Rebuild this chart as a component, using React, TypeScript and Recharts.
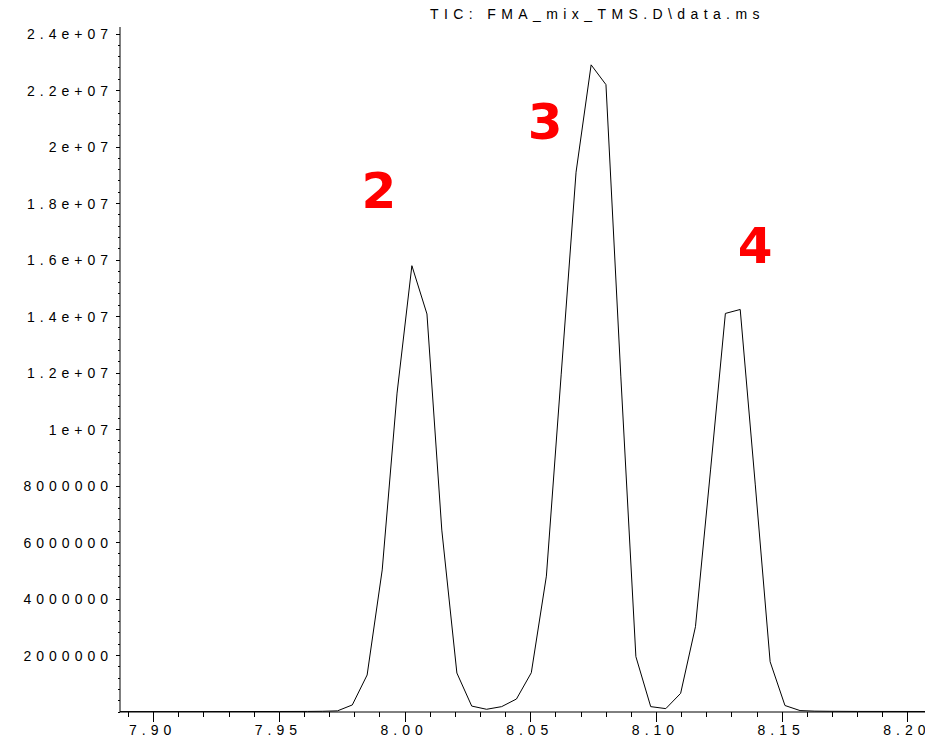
import React from 'react';
import { LineChart, Line, XAxis, YAxis, ReferenceDot } from 'recharts';

// retention time (min) and TIC abundance
const retentionTimes = [
  7.8866, 7.92, 7.95, 7.9612, 7.9671, 7.9731, 7.979, 7.9849, 7.9909, 7.9968,
  8.0027, 8.0087, 8.0146, 8.0206, 8.0265, 8.0324, 8.0384, 8.0443, 8.0502, 8.0562,
  8.0621, 8.068, 8.074, 8.0799, 8.0858, 8.0918, 8.0977, 8.1037, 8.1096, 8.1155,
  8.1215, 8.1274, 8.1333, 8.1393, 8.1452, 8.1511, 8.1571, 8.163, 8.169, 8.18, 8.2068,
];
const abundance = [
  15000, 15000, 18000, 20000, 25000, 40000, 250000, 1310000, 5030000, 11290000,
  15800000, 14090000, 6440000, 1380000, 210000, 96000, 190000, 460000, 1390000, 4810000,
  11960000, 19110000, 22910000, 22210000, 11890000, 1960000, 190000, 120000, 660000, 3020000,
  8570000, 14110000, 14250000, 8040000, 1780000, 230000, 50000, 30000, 25000, 20000, 18000,
];

const xMajorTicks = [7.9, 7.95, 8.0, 8.05, 8.1, 8.15, 8.2];
const xTickLabels = ['7.90', '7.95', '8.00', '8.05', '8.10', '8.15', '8.20'];
const yMajorTicks = [2e6, 4e6, 6e6, 8e6, 1e7, 1.2e7, 1.4e7, 1.6e7, 1.8e7, 2e7, 2.2e7, 2.4e7];
const yTickLabels = [
  '2000000', '4000000', '6000000', '8000000', '1e+07', '1.2e+07',
  '1.4e+07', '1.6e+07', '1.8e+07', '2e+07', '2.2e+07', '2.4e+07',
];

const peakIds = ['2', '3', '4'];
const peakLabelTimes = [7.9896, 8.0557, 8.1392];
const peakLabelHeights = [17.84e6, 20.3e6, 15.89e6];

const title = 'TIC: FMA_mix_TMS.D\\data.ms';

const X_DOMAIN: [number, number] = [7.8866, 8.2068];
const Y_DOMAIN: [number, number] = [0, 2.425e7];

// minor ticks: 0.01 min on x, 4e5 on y
const xTicks: number[] = [];
for (let i = 789; i <= 820; i++) xTicks.push(i / 100);
const yTicks: number[] = [];
for (let i = 0; i <= 60; i++) yTicks.push(i * 4e5);

const data = retentionTimes.map((t, i) => ({ t, tic: abundance[i] }));

const tickFont = {
  fontFamily: '"Liberation Sans", Arial, sans-serif',
  fontSize: 14,
  letterSpacing: '5px',
  fill: '#000',
};

function XTick(props: any) {
  const { x, y, payload } = props;
  const idx = xMajorTicks.findIndex((m) => Math.abs(m - payload.value) < 1e-6);
  const major = idx >= 0;
  return (
    <g>
      <line x1={x} x2={x} y1={y} y2={y + (major ? 10 : 5)} stroke="#000" shapeRendering="crispEdges" />
      {major && (
        <text x={x - 1} y={y + 23} textAnchor="middle" style={tickFont}>
          {xTickLabels[idx]}
        </text>
      )}
    </g>
  );
}

function YTick(props: any) {
  const { x, y, payload } = props;
  const idx = yMajorTicks.findIndex((m) => Math.abs(m - payload.value) < 1);
  const major = idx >= 0;
  return (
    <g>
      <line x1={x - (major ? 4 : 2)} x2={x} y1={y} y2={y} stroke="#000" shapeRendering="crispEdges" />
      {major && (
        <text x={x - 7} y={y + 5} textAnchor="end" style={tickFont}>
          {yTickLabels[idx]}
        </text>
      )}
    </g>
  );
}

export default function App() {
  return (
    <div style={{ position: 'absolute', left: 0, top: 0, width: 925, height: 744, background: '#fff' }}>
      <LineChart width={925} height={744} data={data} margin={{ top: 27, right: 0, bottom: 0, left: 0 }}>
        <XAxis
          dataKey="t"
          type="number"
          domain={X_DOMAIN}
          allowDataOverflow
          ticks={xTicks}
          interval={0}
          height={32}
          tickSize={0}
          tickMargin={0}
          tickLine={false}
          tick={<XTick />}
          axisLine={{ stroke: '#000' }}
        />
        <YAxis
          type="number"
          domain={Y_DOMAIN}
          allowDataOverflow
          ticks={yTicks}
          interval={0}
          width={120}
          tickSize={0}
          tickMargin={0}
          tickLine={false}
          tick={<YTick />}
          axisLine={{ stroke: '#000' }}
        />
        <Line
          type="linear"
          dataKey="tic"
          stroke="#000"
          strokeWidth={1}
          dot={false}
          isAnimationActive={false}
        />
        {peakIds.map((id, i) => (
          <ReferenceDot
            key={id}
            x={peakLabelTimes[i]}
            y={peakLabelHeights[i]}
            r={0}
            ifOverflow="visible"
            shape={(p: any) => (
              <text
                x={p.cx}
                y={p.cy}
                textAnchor="middle"
                fill="#ff0000"
                fontFamily='"DejaVu Sans", Verdana, sans-serif'
                fontWeight="bold"
                fontSize={50}
              >
                {id}
              </text>
            )}
          />
        ))}
      </LineChart>
      <svg width={925} height={30} style={{ position: 'absolute', left: 0, top: 0, pointerEvents: 'none' }}>
        <text x={430} y={18.5} style={{ ...tickFont, letterSpacing: '5.4px' }}>
          {title}
        </text>
      </svg>
    </div>
  );
}
